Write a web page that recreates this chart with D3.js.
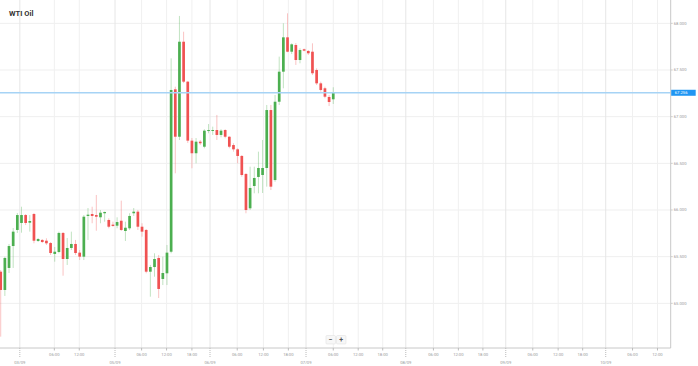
<!DOCTYPE html>
<html><head><meta charset="utf-8">
<script src="https://cdn.jsdelivr.net/npm/d3@7/dist/d3.min.js"></script>
<style>html,body{margin:0;padding:0;background:#fff;}svg{display:block;font-family:Roboto,Arial,sans-serif;}</style>
</head><body>
<script>
const title = "WTI Oil";
const opens = [65.339,65.143,65.379,65.614,65.786,65.861,65.946,65.864,65.957,65.668,
65.679,65.671,65.646,65.529,65.550,65.754,65.475,65.593,65.636,65.543,
65.500,65.936,65.957,65.946,65.922,65.965,65.893,65.843,65.832,65.885,
65.775,65.804,65.965,65.982,65.821,65.786,65.339,65.389,65.486,65.261,
65.322,65.553,67.293,66.785,67.803,67.375,66.743,66.608,66.732,66.678,
66.846,66.850,66.857,66.804,66.857,66.785,66.696,66.650,66.579,66.386,
66.018,66.257,66.354,66.375,66.450,67.071,66.321,67.160,67.482,67.850,
67.696,67.768,67.607,67.722,67.704,67.696,67.500,67.357,67.304,67.211,
67.186];
const closes = [65.143,65.486,65.614,65.768,65.946,65.946,65.861,65.882,65.671,65.689,
65.657,65.643,65.539,65.553,65.754,65.475,65.593,65.636,65.539,65.500,
65.928,65.950,65.936,65.928,65.971,65.979,65.821,65.829,65.871,65.786,
65.810,65.936,65.982,65.821,65.768,65.339,65.389,65.475,65.154,65.325,
65.543,67.286,66.785,67.803,67.375,66.743,66.608,66.732,66.715,66.850,
66.857,66.857,66.804,66.850,66.785,66.678,66.650,66.579,66.375,66.000,
66.236,66.343,66.450,66.450,67.071,66.250,67.160,67.482,67.850,67.696,
67.775,67.607,67.714,67.707,67.679,67.465,67.357,67.286,67.214,67.157,
67.256];
const highs = [65.357,65.500,65.636,65.807,65.968,66.035,65.957,65.946,65.968,65.700,
65.689,65.697,65.657,65.604,65.768,65.764,65.700,65.768,65.679,65.571,
65.946,66.021,66.035,66.161,66.000,65.982,65.911,65.875,65.922,66.100,
65.875,65.965,66.021,66.000,65.858,65.796,65.411,65.536,65.518,65.500,
65.625,67.625,67.321,68.079,67.910,67.380,66.771,66.771,66.750,66.865,
66.921,66.893,67.018,66.865,66.865,66.790,66.715,66.661,66.589,66.396,
66.464,66.464,66.625,66.750,67.125,67.125,67.232,67.643,68.000,68.107,
67.786,67.789,67.733,67.730,67.714,67.786,67.518,67.375,67.321,67.232,
67.315];
const lows = [64.643,65.079,65.325,65.379,65.754,65.757,65.839,65.768,65.643,65.657,
65.646,65.625,65.518,65.446,65.536,65.296,65.411,65.571,65.518,65.464,
65.464,65.679,65.858,65.778,65.858,65.875,65.804,65.821,65.804,65.775,
65.668,65.786,65.936,65.786,65.714,65.322,65.071,65.285,65.057,65.196,
65.196,65.536,66.393,66.750,67.360,66.718,66.447,66.500,66.696,66.661,
66.822,66.804,66.750,66.779,66.768,66.661,66.625,66.500,66.357,65.965,
66.000,66.179,66.179,66.182,66.250,66.214,66.303,67.125,67.304,67.690,
67.671,67.554,67.572,67.700,67.661,67.446,67.339,67.268,67.197,67.114,
67.136];
const currentPrice = 67.256;
const priceTicks = [65.0, 65.5, 66.0, 66.5, 67.0, 67.5, 68.0];
// x tick positions in candle (hour) index units
const timeTickPos = [12.9,18.9,33.9,39.9,46.0,56.9,63.2,69.2,80.0,86.0,91.9,104.1,110.1,116.0,128.0,134.1,140.0,152.0,158.0];
const timeTickLabels = ["06:00","12:00","06:00","12:00","18:00","06:00","12:00","18:00","06:00","12:00","18:00","06:00","12:00","18:00","06:00","12:00","18:00","06:00","12:00"];
const dateTickPos = [4.6,27.5,50.35,73.45,97.45,121.5,145.55];
const dateTickLabels = ["03/09","05/09","06/09","07/09","08/09","09/09","10/09"];

const W = 698, H = 366;
const plotR = 670.7, plotB = 348;
const svg = d3.select("body").append("svg").attr("width", W).attr("height", H);

const x = d3.scaleLinear().domain([-0.17, 161.18]).range([0, plotR]);
const y = d3.scaleLinear().domain([65.0, 68.0]).range([303.33, 23.33]);

// gridlines
const grid = svg.append("g");
grid.selectAll("line.h").data(priceTicks).join("line")
  .attr("x1", 0).attr("x2", plotR).attr("y1", d => y(d)).attr("y2", d => y(d))
  .attr("stroke", "#efefef").attr("stroke-width", 1);
grid.selectAll("line.vt").data(timeTickPos).join("line")
  .attr("x1", d => x(d)).attr("x2", d => x(d)).attr("y1", 0).attr("y2", plotB)
  .attr("stroke", "#f0f0f0").attr("stroke-width", 1);
grid.selectAll("line.vd").data(dateTickPos).join("line")
  .attr("x1", d => x(d)).attr("x2", d => x(d)).attr("y1", 0).attr("y2", plotB)
  .attr("stroke", "#e6e6e6").attr("stroke-width", 1);

// title
svg.append("text").attr("x", 9).attr("y", 15.6).text(title)
  .attr("font-size", 7.5).attr("font-weight", "bold").attr("fill", "#333");

// candles
svg.append("clipPath").attr("id", "clip").append("rect").attr("x", 0).attr("y", 0).attr("width", plotR).attr("height", plotB);
const data = opens.map((o, i) => ({i, o, c: closes[i], h: highs[i], l: lows[i]}));
const cg = svg.append("g").attr("clip-path", "url(#clip)");
const green = "#4caf50", red = "#f05252";
cg.selectAll("line.wick").data(data).join("line")
  .attr("x1", d => x(d.i)).attr("x2", d => x(d.i))
  .attr("y1", d => y(d.h)).attr("y2", d => y(d.l))
  .attr("stroke", d => d.c >= d.o ? green : red).attr("stroke-opacity", 0.35).attr("stroke-width", 1);
const bw = 2.7;
cg.selectAll("rect.body").data(data).join("rect")
  .attr("x", d => x(d.i) - bw / 2).attr("width", bw)
  .attr("y", d => y(Math.max(d.o, d.c)))
  .attr("height", d => Math.max(1, Math.abs(y(d.o) - y(d.c))))
  .attr("fill", d => d.c >= d.o ? green : red);

// current price line
svg.append("line").attr("x1", 0).attr("x2", plotR).attr("y1", y(currentPrice)).attr("y2", y(currentPrice))
  .attr("stroke", "#a6d3f5").attr("stroke-width", 1.6);

// axes lines
svg.append("line").attr("x1", plotR).attr("x2", plotR).attr("y1", 0).attr("y2", plotB).attr("stroke", "#c8c8c8").attr("stroke-width", 1);
svg.append("line").attr("x1", 0).attr("x2", plotR).attr("y1", plotB).attr("y2", plotB).attr("stroke", "#c8c8c8").attr("stroke-width", 1);

// right axis labels
const ya = svg.append("g");
ya.selectAll("line").data(priceTicks).join("line")
  .attr("x1", plotR).attr("x2", plotR + 2).attr("y1", d => y(d)).attr("y2", d => y(d)).attr("stroke", "#ccc");
ya.selectAll("text").data(priceTicks).join("text")
  .attr("x", plotR + 3).attr("y", d => y(d)).attr("dy", "0.35em")
  .attr("font-size", 4.2).attr("fill", "#999").text(d => d3.format(".3f")(d));

// current price tag
svg.append("rect").attr("x", plotR + 0.5).attr("y", y(currentPrice) - 3).attr("width", 24.5).attr("height", 6).attr("fill", "#2196f3");
svg.append("text").attr("x", plotR + 4).attr("y", y(currentPrice)).attr("dy", "0.35em")
  .attr("font-size", 4.2).attr("fill", "#fff").text(d3.format(".3f")(currentPrice));

// bottom axis
const xa = svg.append("g");
xa.selectAll("line.t").data(timeTickPos).join("line")
  .attr("x1", d => x(d)).attr("x2", d => x(d)).attr("y1", plotB).attr("y2", plotB + 2.5).attr("stroke", "#bbb");
xa.selectAll("text.t").data(timeTickPos).join("text")
  .attr("x", d => x(d)).attr("y", 355.8).attr("text-anchor", "middle")
  .attr("font-size", 4.2).attr("fill", "#999").text((d, i) => timeTickLabels[i]);
xa.selectAll("line.d").data(dateTickPos).join("line")
  .attr("x1", d => x(d)).attr("x2", d => x(d)).attr("y1", plotB).attr("y2", plotB + 10)
  .attr("stroke", "#bbb").attr("stroke-dasharray", "1,1");
xa.selectAll("text.d").data(dateTickPos).join("text")
  .attr("x", d => x(d)).attr("y", 364.2).attr("text-anchor", "middle")
  .attr("font-size", 4.2).attr("fill", "#999").text((d, i) => dateTickLabels[i]);

// zoom buttons
const zb = svg.append("g");
[["−", 326], ["+", 336.5]].forEach(([t, bx]) => {
  zb.append("rect").attr("x", bx).attr("y", 335.5).attr("width", 9.5).attr("height", 8.5).attr("rx", 1)
    .attr("fill", "#f7f7f7").attr("stroke", "#e3e3e3").attr("stroke-width", 0.6);
  zb.append("text").attr("x", bx + 4.75).attr("y", 339.8).attr("dy", "0.35em").attr("text-anchor", "middle")
    .attr("font-size", 7).attr("font-weight", "bold").attr("fill", "#555").text(t);
});
</script>
</body></html>
